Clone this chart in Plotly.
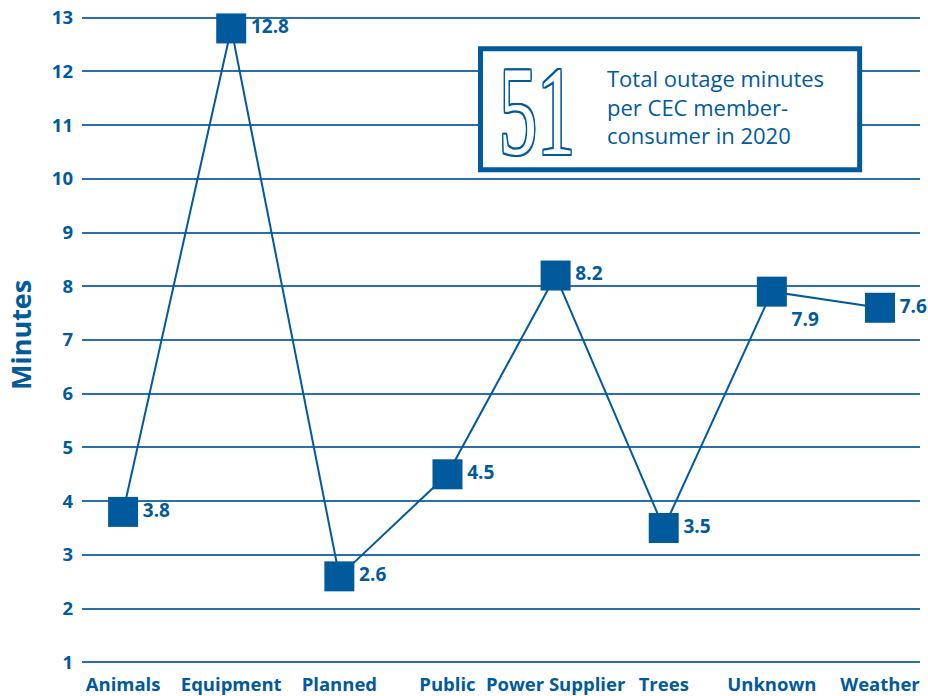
import plotly.graph_objects as go

categories = ["Animals", "Equipment", "Planned", "Public", "Power Supplier", "Trees", "Unknown", "Weather"]
minutes = [3.8, 12.8, 2.6, 4.5, 8.2, 3.5, 7.9, 7.6]
labels = ["3.8", "12.8", "2.6", "4.5", "8.2", "3.5", "7.9", "7.6"]
label_pos = ["middle right"] * 6 + ["bottom right", "middle right"]
y_ticks = list(range(1, 14))

BLUE = "#005a9c"
FONT = "Open Sans"

fig = go.Figure()
fig.add_trace(go.Scatter(
    x=categories, y=minutes, mode="lines+markers+text",
    line=dict(color=BLUE, width=2),
    marker=dict(symbol="square", size=30, color=BLUE),
    text=labels, textposition=label_pos,
    textfont=dict(family=FONT, size=19, color=BLUE, weight="bold"),
    cliponaxis=False, showlegend=False,
))

fig.add_shape(type="rect", xref="paper", yref="paper",
              x0=0.4755, x1=0.928, y0=0.762, y1=0.948,
              line=dict(color=BLUE, width=5), fillcolor="white", layer="above")

outline = ", ".join(f"{dx}px {dy}px 0 {BLUE}" for dx, dy in
                    [(2, 0), (-2, 0), (0, 2), (0, -2), (2, 2), (-2, -2), (2, -2), (-2, 2)])
fig.add_annotation(xref="paper", yref="paper", x=0.5435, y=0.852,
                   text="51", showarrow=False, xanchor="center", yanchor="middle",
                   font=dict(family="Liberation Sans Narrow", size=126, color="white",
                             shadow=outline))
fig.add_annotation(xref="paper", yref="paper", x=0.624, y=0.859,
                   text="Total outage minutes<br>per CEC member-<br>consumer in 2020",
                   showarrow=False, xanchor="left", yanchor="middle", align="left",
                   font=dict(family=FONT, size=22, color=BLUE))

fig.update_layout(
    width=928, height=696,
    margin=dict(l=82, r=8, t=15, b=31, autoexpand=False),
    paper_bgcolor="white", plot_bgcolor="white",
    font=dict(family=FONT, color=BLUE),
    xaxis=dict(showgrid=False, showline=False, zeroline=False, ticks="",
               range=[-0.38, 7.37], ticklabelstandoff=6, automargin=False,
               tickfont=dict(family=FONT, size=18.5, color=BLUE, weight="bold")),
    yaxis=dict(range=[0.95, 13.05], tickvals=y_ticks, showgrid=True, gridcolor="#2a6fa8",
               gridwidth=1.5, zeroline=False, showline=False, ticks="",
               ticklabelstandoff=8, automargin=False,
               tickfont=dict(family=FONT, size=18.5, color=BLUE, weight="bold")),
)
fig.add_annotation(xref="paper", yref="paper", x=-0.0725, y=0.508, text="Minutes",
                   textangle=-90, showarrow=False, xanchor="center", yanchor="middle",
                   font=dict(family=FONT, size=27, color=BLUE, weight="bold"))

post = """
document.body.style.margin = '0';
document.querySelectorAll('text.annotation-text').forEach(function (t) {
  if (t.textContent === '51') {
    t.setAttribute('textLength', '76');
    t.setAttribute('lengthAdjust', 'spacingAndGlyphs');
  }
});
"""
fig.write_html("out.html", post_script=post, config={"displayModeBar": False})
